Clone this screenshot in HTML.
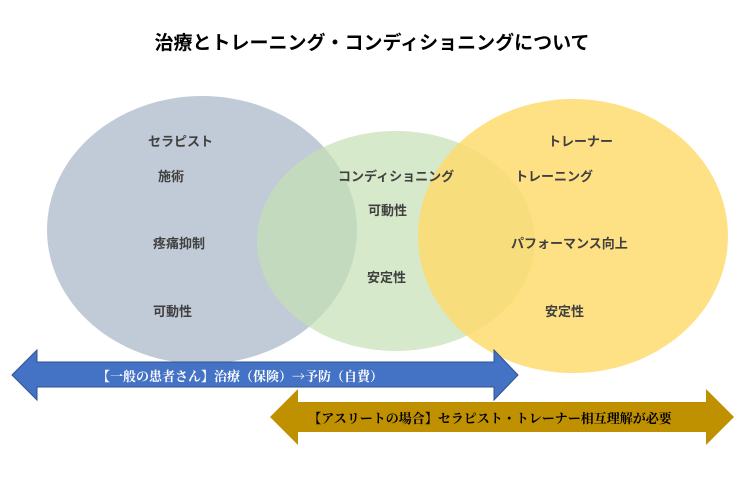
<!DOCTYPE html>
<html><head><meta charset="utf-8"><style>
body{margin:0;width:746px;height:474px;background:#fff;overflow:hidden}
svg text{font-family:"Liberation Sans","Noto Sans CJK JP",sans-serif;font-weight:bold}
</style></head><body>
<svg width="746" height="474" viewBox="0 0 746 474">
<text x="372" y="49" font-size="19" text-anchor="middle" fill="#000">治療とトレーニング・コンディショニングについて</text>
<ellipse cx="202" cy="230" rx="155" ry="134" fill="#acb9ca" opacity="0.75"/>
<ellipse cx="396" cy="241" rx="139" ry="110" fill="#c5e0b4" opacity="0.7"/>
<ellipse cx="573" cy="236" rx="155" ry="137" fill="#ffd966" opacity="0.8"/>
<g font-size="13" fill="#404040">
<text x="148" y="146">セラピスト</text>
<text x="158" y="181">施術</text>
<text x="153" y="248">疼痛抑制</text>
<text x="153" y="316">可動性</text>
<text x="338" y="181">コンディショニング</text>
<text x="368" y="215">可動性</text>
<text x="367" y="282">安定性</text>
<text x="548" y="146">トレーナー</text>
<text x="515" y="181">トレーニング</text>
<text x="511" y="248">パフォーマンス向上</text>
<text x="545" y="316">安定性</text>
</g>
<polygon points="12,375 37,350 37,362 494,362 494,350 518,375 494,400 494,387 37,387 37,400" fill="#4472c4" stroke="#2f528f" stroke-width="1"/>
<text x="240" y="381" font-size="13" fill="#fff" text-anchor="middle" style="font-family:'Noto Serif CJK SC','Liberation Serif',serif">【一般の患者さん】治療（保険）→予防（自費）</text>
<polygon points="270,417 298,389 298,402 706,402 706,389 734,417 706,445 706,432 298,432 298,445" fill="#bf9000"/>
<text x="490" y="423" font-size="13" fill="#000" text-anchor="middle" style="font-family:'Noto Serif CJK SC','Liberation Serif',serif">【アスリートの場合】セラピスト・トレーナー相互理解が必要</text>
</svg>
</body></html>
